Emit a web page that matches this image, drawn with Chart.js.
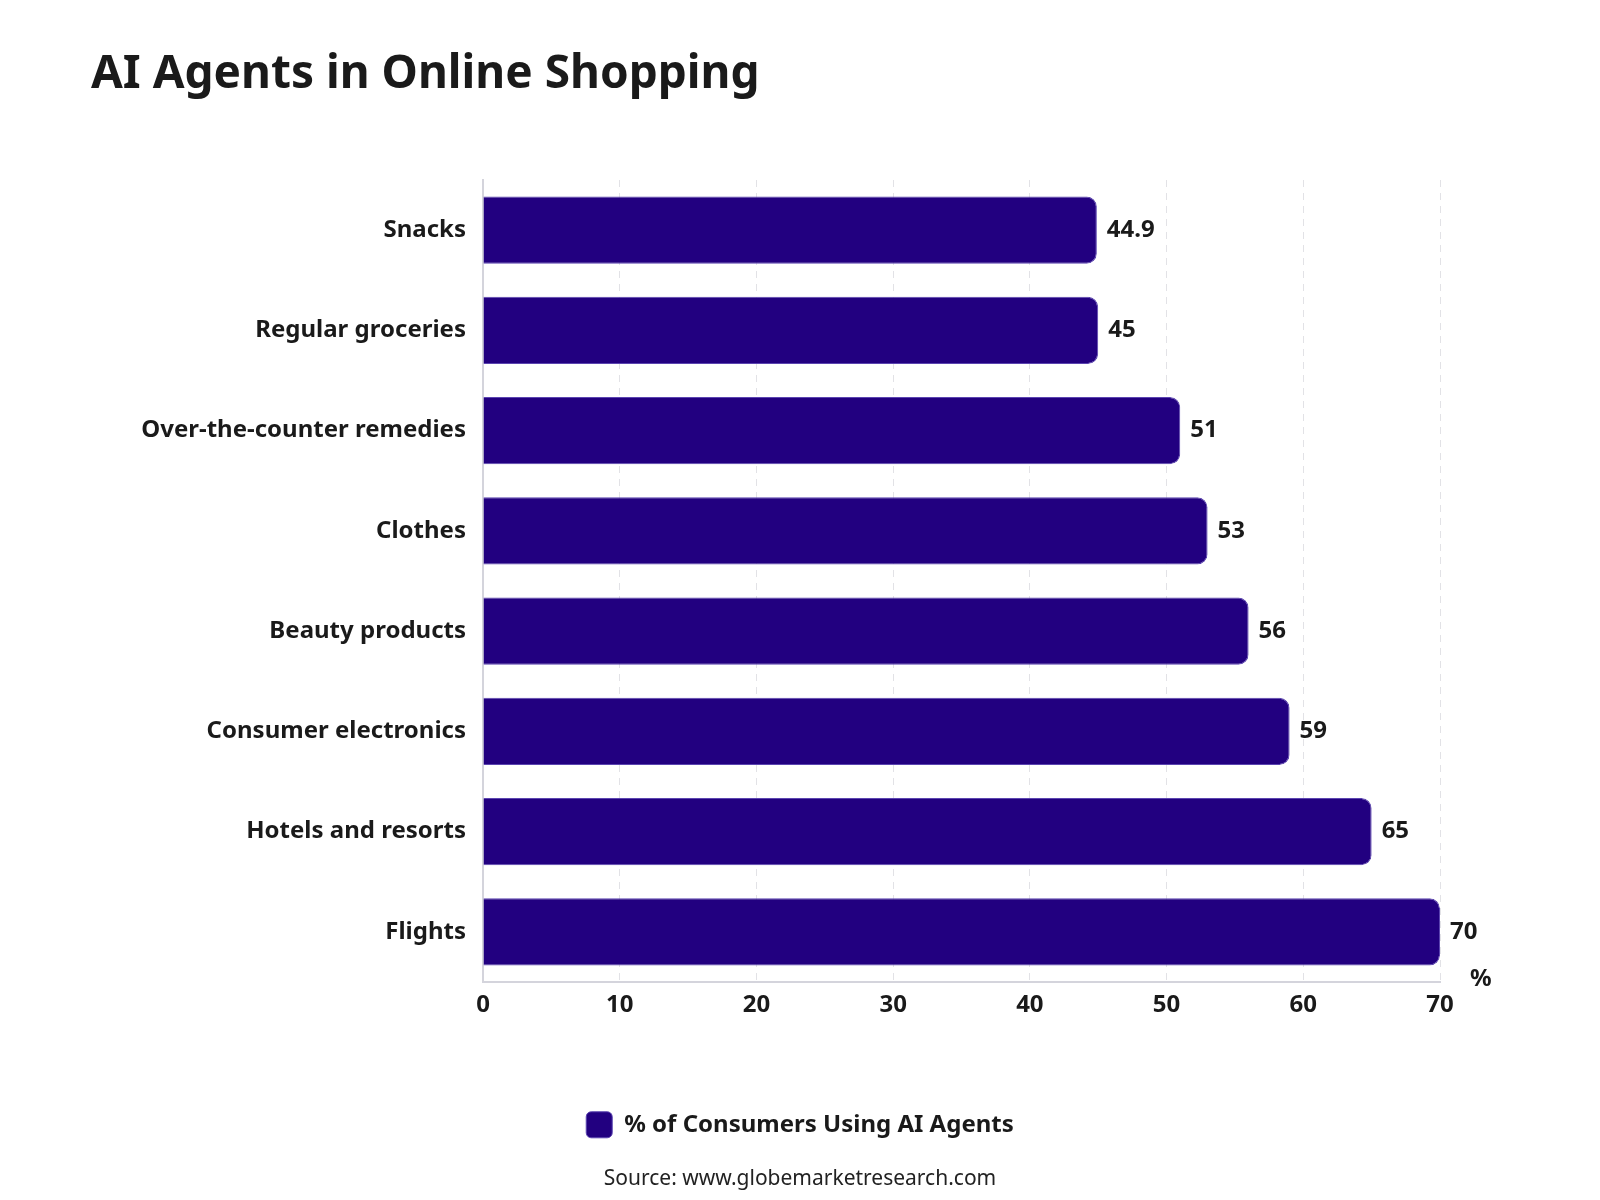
<!DOCTYPE html>
<html>
<head>
<meta charset="utf-8">
<script src="https://cdn.jsdelivr.net/npm/chart.js@4"></script>
<style>
  html, body { margin: 0; padding: 0; background: #fff; }
  #wrap { width: 1600px; height: 1200px; }
</style>
</head>
<body>
<div id="wrap"><canvas id="chartAgents"></canvas></div>
<script>
// データ
const categories = ['Snacks', 'Regular groceries', 'Over-the-counter remedies', 'Clothes',
    'Beauty products', 'Consumer electronics', 'Hotels and resorts', 'Flights'];
const shareValues = [44.9, 45, 51, 53, 56, 59, 65, 70];
const xTicks = [0, 10, 20, 30, 40, 50, 60, 70];
const seriesLabel = '% of Consumers Using AI Agents';
const titleText = 'AI Agents in Online Shopping';
const sourceText = 'Source: www.globemarketresearch.com';
const unitText = '%';

const FONT = "'Noto Sans', 'Open Sans', sans-serif";
const INK = '#1a1a1a';
const BAR = '#220080';

// タイトル・単位・値ラベル描画
const extras = {
    id: 'extras',
    afterLayout(chart) {
        // 長いラベルが切れないようにクリップ範囲を左端まで広げる
        chart.scales.y.left = 0;
    },
    afterDatasetsDraw(chart) {
        const ctx = chart.ctx;
        ctx.save();
        ctx.fillStyle = INK;
        ctx.font = 'bold 24px ' + FONT;
        ctx.textBaseline = 'middle';
        ctx.textAlign = 'left';
        chart.getDatasetMeta(0).data.forEach((bar, i) => {
            ctx.fillText(String(shareValues[i]), bar.x + 10, bar.y);
        });
        const area = chart.chartArea;
        ctx.fillText(unitText, area.right + 30, area.bottom - 3);
        ctx.font = 'bold 46px ' + FONT;
        ctx.textBaseline = 'alphabetic';
        ctx.fillText(titleText, 91, 88);
        ctx.restore();
    }
};

const ctx = document.getElementById('chartAgents').getContext('2d');
new Chart(ctx, {
    type: 'bar',
    data: {
        labels: categories,
        datasets: [{
            label: seriesLabel,
            data: shareValues,
            backgroundColor: BAR,
            borderColor: '#5b44b0',
            borderWidth: 1,
            borderRadius: 10,
            barPercentage: 0.67,
            categoryPercentage: 1
        }]
    },
    plugins: [extras],
    options: {
        indexAxis: 'y',
        responsive: true,
        maintainAspectRatio: false,
        animation: false,
        layout: { padding: { top: 180, left: 160, right: 160, bottom: 4 } },
        scales: {
            x: {
                min: 0, max: 70,
                afterBuildTicks(scale) { scale.ticks = xTicks.map(v => ({ value: v })); },
                afterFit(scale) { scale.height += 73; }, // 凡例までの余白
                grid: { color: '#e2e2e6', lineWidth: 1, drawTicks: false },
                border: { display: true, color: '#d4d4dc', width: 2, dash: [7, 6] },
                ticks: { color: INK, font: { family: FONT, size: 24, weight: 'bold' }, padding: 9 }
            },
            y: {
                afterFit(scale) { scale.width = 323; },
                grid: { display: false },
                border: { display: true, color: '#d4d4dc', width: 2 },
                ticks: { color: INK, font: { family: FONT, size: 24, weight: 'bold' }, padding: 9 }
            }
        },
        plugins: {
            legend: {
                position: 'bottom',
                labels: {
                    color: INK,
                    font: { family: FONT, size: 24, weight: 'bold' },
                    boxWidth: 26, boxHeight: 26,
                    useBorderRadius: true, borderRadius: 5,
                    padding: 10
                },
                onClick: null
            },
            subtitle: {
                display: true,
                position: 'bottom',
                text: sourceText,
                color: '#222',
                font: { family: FONT, size: 21, weight: 'normal' },
                padding: { top: 19, bottom: 4 }
            },
            tooltip: { enabled: false }
        }
    }
});
</script>
</body>
</html>
